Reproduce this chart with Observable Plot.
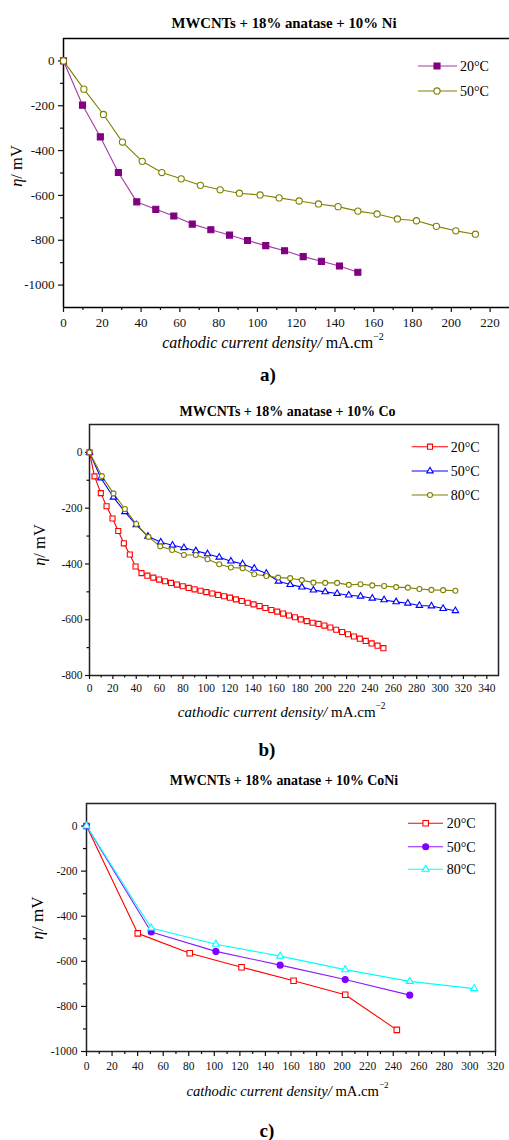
<!DOCTYPE html>
<html><head><meta charset="utf-8">
<script src="https://cdn.jsdelivr.net/npm/d3@7"></script>
<script src="https://cdn.jsdelivr.net/npm/@observablehq/plot@0.6"></script>
<style>
body{margin:0;background:#fff;}
#wrap{position:relative;width:509px;height:1140px;overflow:hidden;background:#fff;}
#wrap svg{position:absolute;left:0;overflow:visible;}
#wrap svg, #wrap svg text, #wrap svg tspan{font-family:"Liberation Serif", "Times New Roman", Times, serif !important;}
</style></head><body><div id="wrap"></div>
<script>
// ---------- Panel a: MWCNTs + 18% anatase + 10% Ni ----------
const aX20 = [0, 9.8, 19, 28.3, 37.8, 47.6, 56.9, 66.4, 76, 85.6, 94.9, 104.3, 114, 123.6, 133, 142.3, 151.8];
const aY20 = [0, -197, -339, -498, -629, -662, -692, -728, -753, -777, -801, -824, -847, -873, -894, -915, -943];
const aX50 = [0, 10.5, 20.6, 30.4, 40.6, 50.7, 60.7, 70.6, 80.8, 90.7, 101.4, 111.2, 121.5, 131.5, 141.6, 151.8, 161.7, 172.2, 182, 192.3, 202.3, 212.4];
const aY50 = [0, -126, -239, -362, -448, -498, -526, -555, -575, -590, -598, -611, -625, -638, -650, -670, -683, -705, -713, -738, -758, -773];
const aXTicks = [0, 20, 40, 60, 80, 100, 120, 140, 160, 180, 200, 220];
const aXMinor = [10, 30, 50, 70, 90, 110, 130, 150, 170, 190, 210];
const aYTicks = [0, -200, -400, -600, -800, -1000];
const aYMinor = [-100, -300, -500, -700, -900];

// ---------- Panel b: MWCNTs + 18% anatase + 10% Co ----------
const bX20 = [0, 4.3, 9.7, 14.6, 19.7, 24.6, 29.4, 34.5, 39.4, 44.5, 49.5, 54.6, 59.6, 64.7, 69.7, 74.8, 79.8, 84.9, 89.9, 95, 100, 105.1, 110.1, 115.2, 120.2, 125.3, 130.3, 135.4, 140.4, 145.5, 150.5, 155.6, 160.6, 165.7, 170.7, 175.8, 180.8, 185.9, 190.9, 196, 201, 206.1, 211.1, 216.2, 221.2, 226.3, 231.3, 236.4, 241.4, 246.5, 251.5];
const bY20 = [0, -86, -146, -193, -237, -282, -326, -366, -409, -433, -442, -449, -456, -462, -468, -474, -480, -486, -491, -496, -501, -506, -511, -516, -521, -527, -533, -539, -545, -551, -558, -565, -571, -578, -585, -591, -599, -605, -611, -615, -621, -628, -636, -644, -652, -660, -668, -676, -685, -693, -702];
const bX50 = [0, 9.7, 20.5, 30.3, 40, 50, 61, 71, 80.8, 91, 101, 111, 121, 131, 141, 151.4, 161.7, 171.7, 181.7, 191.6, 201.7, 211.9, 221.9, 231.9, 242, 252.1, 262.4, 272.4, 282.3, 292.6, 302.6, 313.1];
const bY50 = [0, -92, -161, -213, -260, -301, -322, -333, -342, -353, -364, -376, -390, -400, -416, -434, -462, -474, -483, -494, -500, -506, -512, -516, -523, -529, -536, -541, -549, -551, -560, -568];
const bX80 = [0, 10.6, 20.5, 30.3, 40, 50.5, 60.5, 70.7, 80.8, 91, 101, 111, 121, 131, 141, 151.4, 161.4, 171.7, 181.7, 191.6, 201.7, 211.9, 221.9, 231.9, 242, 252.1, 262.4, 272.4, 282.3, 292.6, 302.6, 313.1];
const bY80 = [0, -85, -147, -203, -257, -303, -337, -350, -368, -368, -383, -401, -413, -415, -437, -443, -449, -451, -458, -467, -468, -468, -475, -473, -477, -479, -483, -485, -490, -493, -494, -496];
const bXTicks = [0, 20, 40, 60, 80, 100, 120, 140, 160, 180, 200, 220, 240, 260, 280, 300, 320, 340];
const bXMinor = [10, 30, 50, 70, 90, 110, 130, 150, 170, 190, 210, 230, 250, 270, 290, 310, 330];
const bYTicks = [0, -200, -400, -600, -800];
const bYMinor = [-100, -300, -500, -700];

// ---------- Panel c: MWCNTs + 18% anatase + 10% CoNi ----------
const cX20 = [0, 40.1, 80.8, 121.3, 162, 202.4, 242.8];
const cY20 = [0, -476, -564, -626, -686, -748, -904];
const cX50 = [0, 50.6, 101.2, 151.5, 202.4, 252.9];
const cY50 = [0, -470, -556, -617, -681, -750];
const cX80 = [0, 50.6, 101.2, 151.5, 202.4, 252.9, 303.3];
const cY80 = [0, -452, -524, -577, -637, -689, -721];
const cXTicks = [0, 20, 40, 60, 80, 100, 120, 140, 160, 180, 200, 220, 240, 260, 280, 300, 320];
const cXMinor = [10, 30, 50, 70, 90, 110, 130, 150, 170, 190, 210, 230, 250, 270, 290, 310];
const cYTicks = [0, -200, -400, -600, -800, -1000];
const cYMinor = [-100, -300, -500, -700, -900];

const titles = ["MWCNTs + 18% anatase + 10% Ni", "MWCNTs + 18% anatase + 10% Co", "MWCNTs + 18% anatase + 10% CoNi"];
const panelLabels = ["a)", "b)", "c)"];

const panels = [
  {top: 0, height: 390, m: [38, 0, 83, 63], xDomain: [0, 230], yDomain: [-1100, 100],
   xTicks: aXTicks, xMinor: aXMinor, yTicks: aYTicks, yMinor: aYMinor, fullFrame: false,
   fs: 13, tick: 5, minor: 3, xPad: 5, yPad: 4,
   title: {x: 284, y: 28, size: 14.8}, ylab: {x: 22, y: 166, size: 16.5}, xlab: {x: 273, y: 348, size: 16},
   plab: {x: 268, y: 381, size: 19},
   legend: {rows: [66, 91], x1: 418, x2: 457, xm: 437, xt: 460},
   series: [
     {x: aX20, y: aY20, name: "20", symbol: "square", r: 3.4, stroke: "#800080", fill: "#800080", line: "#a23ca2"},
     {x: aX50, y: aY50, name: "50", symbol: "circle", r: 3.1, stroke: "#808000", fill: "#fff", line: "#808000"}
   ]},
  {top: 390, height: 375, m: [34, 11, 90, 89], xDomain: [0, 350], yDomain: [-800, 100],
   xTicks: bXTicks, xMinor: bXMinor, yTicks: bYTicks, yMinor: bYMinor, fullFrame: true,
   fs: 11.5, tick: 4, minor: 2.5, xPad: 4, yPad: 3,
   title: {x: 287.5, y: 415.5, size: 14}, ylab: {x: 45, y: 545, size: 16.5}, xlab: {x: 281.7, y: 717, size: 15},
   plab: {x: 267, y: 756, size: 19},
   legend: {rows: [446.7, 471, 495], x1: 411.7, x2: 448, xm: 430, xt: 450.7},
   series: [
     {x: bX20, y: bY20, name: "20", symbol: "square", r: 2.85, stroke: "#ff0000", fill: "#fff", line: "#ff0000"},
     {x: bX50, y: bY50, name: "50", symbol: "triangle", r: 2.4, stroke: "#0000ff", fill: "#fff", line: "#0000ff"},
     {x: bX80, y: bY80, name: "80", symbol: "circle", r: 2.5, stroke: "#808000", fill: "#fff", line: "#808000"}
   ]},
  {top: 765, height: 375, m: [38, 14, 89, 86], xDomain: [0, 320], yDomain: [-1000, 100],
   xTicks: cXTicks, xMinor: cXMinor, yTicks: cYTicks, yMinor: cYMinor, fullFrame: true,
   fs: 11.5, tick: 5, minor: 3, xPad: 5, yPad: 4,
   title: {x: 284, y: 785, size: 13.9}, ylab: {x: 43, y: 918, size: 17}, xlab: {x: 287.5, y: 1096, size: 14.6},
   plab: {x: 267, y: 1137, size: 19},
   legend: {rows: [823.3, 846.7, 869.3], x1: 408, x2: 443, xm: 425.7, xt: 446.7},
   series: [
     {x: cX20, y: cY20, name: "20", symbol: "square", r: 3.1, stroke: "#ff0000", fill: "#fff", line: "#ff0000"},
     {x: cX50, y: cY50, name: "50", symbol: "circle", r: 3, stroke: "#8000ff", fill: "#8000ff", line: "#8a1aff"},
     {x: cX80, y: cY80, name: "80", symbol: "triangle", r: 2.6, stroke: "#00ffff", fill: "#fff", line: "#00ffff"}
   ]}
];

const wrap = document.getElementById("wrap");
const symbolTypes = {square: d3.symbolSquare, circle: d3.symbolCircle, triangle: d3.symbolTriangle};

panels.forEach((p, pi) => {
  const marks = [];
  if (p.fullFrame) {
    marks.push(Plot.frame({stroke: "#222", strokeWidth: 1.5}));
  } else {
    marks.push(Plot.ruleX([p.xDomain[0]], {stroke: "#000", strokeWidth: 1.5}));
    marks.push(Plot.ruleY(p.yDomain, {stroke: "#000", strokeWidth: 1.5}));
  }
  marks.push(Plot.axisX({ticks: p.xMinor, tickSize: p.minor, tickFormat: () => "", label: null, strokeWidth: 1.2}));
  marks.push(Plot.axisX({ticks: p.xTicks, tickSize: p.tick, tickPadding: p.xPad, tickFormat: d => String(d), label: null, strokeWidth: 1.2}));
  marks.push(Plot.axisY({ticks: p.yMinor, tickSize: p.minor, tickFormat: () => "", label: null, strokeWidth: 1.2}));
  marks.push(Plot.axisY({ticks: p.yTicks, tickSize: p.tick, tickPadding: p.yPad, tickFormat: d => String(d), label: null, strokeWidth: 1.2}));
  p.series.forEach(s => {
    const data = s.x.map((x, i) => ({x, y: s.y[i]}));
    marks.push(Plot.line(data, {x: "x", y: "y", stroke: s.line, strokeWidth: 1.1}));
  });
  p.series.forEach(s => {
    const data = s.x.map((x, i) => ({x, y: s.y[i]}));
    marks.push(Plot.dot(data, {x: "x", y: "y", symbol: s.symbol, r: s.r, stroke: s.stroke, fill: s.fill, strokeWidth: 1.1}));
  });
  const svg = Plot.plot({
    width: 509, height: p.height,
    marginTop: p.m[0], marginRight: p.m[1], marginBottom: p.m[2], marginLeft: p.m[3],
    x: {domain: p.xDomain, axis: null, label: null},
    y: {domain: p.yDomain, axis: null, label: null},
    style: {fontSize: p.fs + "px", color: "#111", background: "transparent", overflow: "visible"},
    marks
  });
  svg.style.top = p.top + "px";
  wrap.appendChild(svg);
  const g = d3.select(svg).append("g").attr("fill", "#000").attr("text-anchor", "start");
  const T = p.top;
  // title
  g.append("text").attr("x", p.title.x).attr("y", p.title.y - T).attr("text-anchor", "middle")
    .attr("font-weight", "bold").attr("font-size", p.title.size).text(titles[pi]);
  // y label
  const yl = g.append("text").attr("text-anchor", "middle").attr("font-size", p.ylab.size)
    .attr("transform", `translate(${p.ylab.x},${p.ylab.y - T}) rotate(-90)`);
  yl.append("tspan").attr("font-style", "italic").text("η");
  yl.append("tspan").text("/ mV");
  // x label
  const xl = g.append("text").attr("x", p.xlab.x).attr("y", p.xlab.y - T).attr("text-anchor", "middle").attr("font-size", p.xlab.size);
  xl.append("tspan").attr("font-style", "italic").text("cathodic current density/");
  xl.append("tspan").text(" mA.cm");
  xl.append("tspan").attr("font-size", "0.62em").attr("dy", "-0.85em").text("−2");
  // panel label
  g.append("text").attr("x", p.plab.x).attr("y", p.plab.y - T).attr("text-anchor", "middle")
    .attr("font-weight", "bold").attr("font-size", p.plab.size).text(panelLabels[pi]);
  // legend
  p.series.forEach((s, i) => {
    const yy = p.legend.rows[i] - T;
    g.append("line").attr("x1", p.legend.x1).attr("x2", p.legend.x2).attr("y1", yy).attr("y2", yy)
      .attr("stroke", s.line).attr("stroke-width", 1.1);
    g.append("path").attr("d", d3.symbol(symbolTypes[s.symbol], s.r * s.r * Math.PI)())
      .attr("transform", `translate(${p.legend.xm},${yy})`)
      .attr("fill", s.fill).attr("stroke", s.stroke).attr("stroke-width", 1.1);
    g.append("text").attr("x", p.legend.xt).attr("y", yy + 5).attr("text-anchor", "start")
      .attr("font-size", 14).text(s.name + "°C");
  });
});
</script>
</body></html>
